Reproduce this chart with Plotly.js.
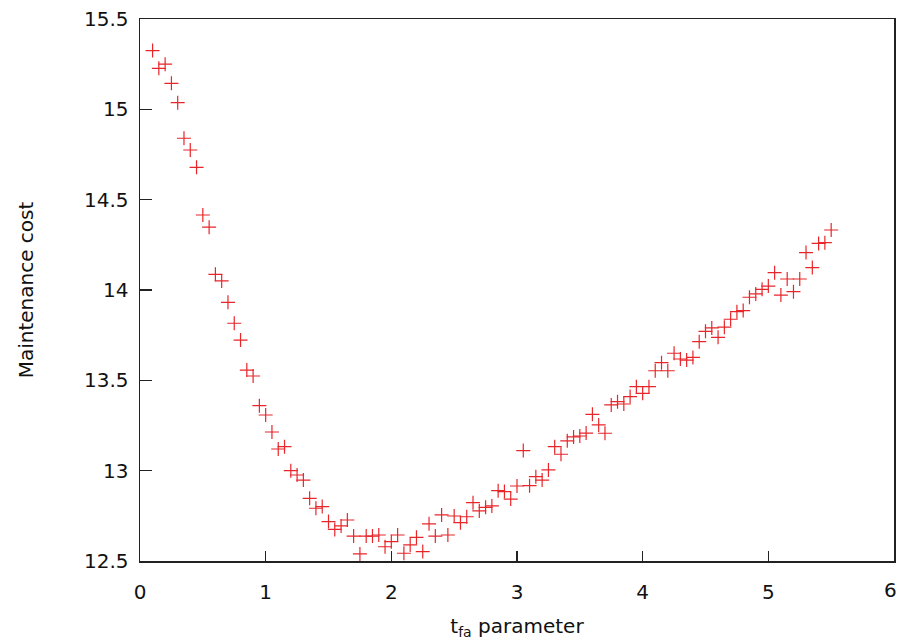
<!DOCTYPE html>
<html>
<head>
<meta charset="utf-8">
<script src="https://cdn.plot.ly/plotly-3.0.1.min.js"></script>
<style>html,body{margin:0;padding:0;background:#fff;}#chart{width:899px;height:640px;}</style>
</head>
<body>
<div id="chart"></div>
<script>
const tfa = [0.10,0.15,0.20,0.25,0.30,0.35,0.40,0.45,0.50,0.55,
  0.60,0.65,0.70,0.75,0.80,0.85,0.90,0.95,1.00,1.05,
  1.10,1.15,1.20,1.25,1.30,1.35,1.40,1.45,1.50,1.55,
  1.60,1.65,1.70,1.75,1.80,1.85,1.90,1.95,2.00,2.05,
  2.10,2.15,2.20,2.25,2.30,2.35,2.40,2.45,2.50,2.55,
  2.60,2.65,2.70,2.75,2.80,2.85,2.90,2.95,3.00,3.05,
  3.10,3.15,3.20,3.25,3.30,3.35,3.40,3.45,3.50,3.55,
  3.60,3.65,3.70,3.75,3.80,3.85,3.90,3.95,4.00,4.05,
  4.10,4.15,4.20,4.25,4.30,4.35,4.40,4.45,4.50,4.55,
  4.60,4.65,4.70,4.75,4.80,4.85,4.90,4.95,5.00,5.05,
  5.10,5.15,5.20,5.25,5.30,5.35,5.40,5.45,5.50];
const cost = [15.325,15.227,15.250,15.144,15.037,14.840,14.775,14.679,14.415,14.348,
  14.087,14.050,13.932,13.816,13.723,13.557,13.524,13.360,13.308,13.214,
  13.120,13.133,13.000,12.976,12.948,12.847,12.792,12.801,12.718,12.675,
  12.694,12.727,12.638,12.539,12.638,12.638,12.644,12.579,12.607,12.644,
  12.543,12.589,12.631,12.552,12.706,12.638,12.755,12.644,12.749,12.712,
  12.745,12.823,12.777,12.797,12.805,12.889,12.884,12.843,12.915,13.111,
  12.917,12.967,12.948,13.004,13.133,13.091,13.165,13.187,13.192,13.208,
  13.312,13.253,13.207,13.364,13.382,13.369,13.410,13.465,13.428,13.465,
  13.553,13.598,13.553,13.650,13.618,13.612,13.627,13.714,13.771,13.790,
  13.738,13.794,13.838,13.880,13.886,13.960,13.978,14.004,14.022,14.096,
  13.972,14.061,13.991,14.061,14.207,14.124,14.258,14.262,14.332];
const xTicks = [0,1,2,3,4,5];
const xEdgeTick = 6;
const yTicks = [12.5,13,13.5,14,14.5,15,15.5];

const trace = {
  x: tfa, y: cost, type: 'scatter', mode: 'markers',
  marker: {symbol: 'cross-thin', size: 10, color: '#e8262a', line: {color: '#e8262a', width: 1.2}},
  hoverinfo: 'skip'
};
const fontFam = 'DejaVu Sans, sans-serif';
const layout = {
  width: 899, height: 640,
  margin: {l: 140, r: 5, t: 19, b: 79},
  paper_bgcolor: '#ffffff', plot_bgcolor: '#ffffff',
  showlegend: false,
  font: {family: fontFam, color: '#111'},
  xaxis: {
    range: [0, 6], tickvals: xTicks, ticktext: xTicks.map(String),
    ticks: 'inside', ticklen: 10, tickwidth: 1.2, tickcolor: '#222',
    showline: true, linecolor: '#222', linewidth: 1.5, mirror: true,
    showgrid: false, zeroline: false,
    tickfont: {size: 20, family: fontFam, color: '#111'},
    ticklabelstandoff: 12,
    title: {text: 't<sub>fa</sub> parameter', font: {size: 20, family: fontFam, color: '#111'}, standoff: 17}
  },
  yaxis: {
    range: [12.5, 15.5], tickvals: yTicks, ticktext: yTicks.map(String),
    ticks: 'inside', ticklen: 12, tickwidth: 1.2, tickcolor: '#222',
    showline: true, linecolor: '#222', linewidth: 1.5, mirror: true,
    showgrid: false, zeroline: false,
    tickfont: {size: 20, family: fontFam, color: '#111'},
    ticklabelstandoff: 6,
    title: {text: 'Maintenance cost', font: {size: 20, family: fontFam, color: '#111'}, standoff: 45}
  },
  annotations: [{
    x: xEdgeTick, xref: 'x', y: -29 / 542, yref: 'paper', xshift: -4,
    text: String(xEdgeTick), showarrow: false, xanchor: 'center', yanchor: 'middle',
    font: {size: 20, family: fontFam, color: '#111'}
  }]
};
Plotly.newPlot('chart', [trace], layout, {displayModeBar: false, staticPlot: true});
</script>
</body>
</html>
